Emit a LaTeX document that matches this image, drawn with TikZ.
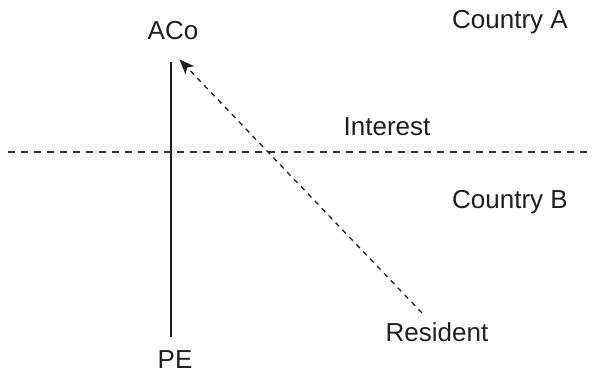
\documentclass[tikz,border=0pt]{standalone}
\usepackage{fontspec}
\setmainfont{Liberation Sans}
\usetikzlibrary{arrows.meta}
\begin{document}
\begin{tikzpicture}[x=1pt,y=-1pt,
  lbl/.style={anchor=base,inner sep=0pt,font=\fontsize{26}{30}\selectfont,text=black!88},
  border/.style={line width=1.3pt,dash pattern=on 7pt off 6pt,draw=black!80},
  link/.style={line width=1.3pt,draw=black!88},
  flow/.style={line width=1.3pt,dash pattern=on 5pt off 5pt,draw=black!88,-{Stealth[length=15pt,width=12pt,inset=4pt]}}]
\useasboundingbox (0,0) rectangle (593,372);
\node[lbl] (aco) at (173,39) {ACo};
\node[lbl] (pe) at (175,368) {PE};
\node[lbl] (ca) at (510,28) {Country A};
\node[lbl] (cb) at (510,208) {Country B};
\node[lbl] (int) at (387,135) {Interest};
\node[lbl] (res) at (437,341) {Resident};
\coordinate (vtop) at (171,62);
\coordinate (vbot) at (171,337);
\coordinate (bl) at (8,152);
\coordinate (br) at (588,152);
\coordinate (astart) at (422,313);
\coordinate (aend) at (179.5,59.5);
\draw[border] (bl) -- (br);
\draw[link] (vtop) -- (vbot);
\draw[flow] (astart) -- (aend);
\end{tikzpicture}
\end{document}
